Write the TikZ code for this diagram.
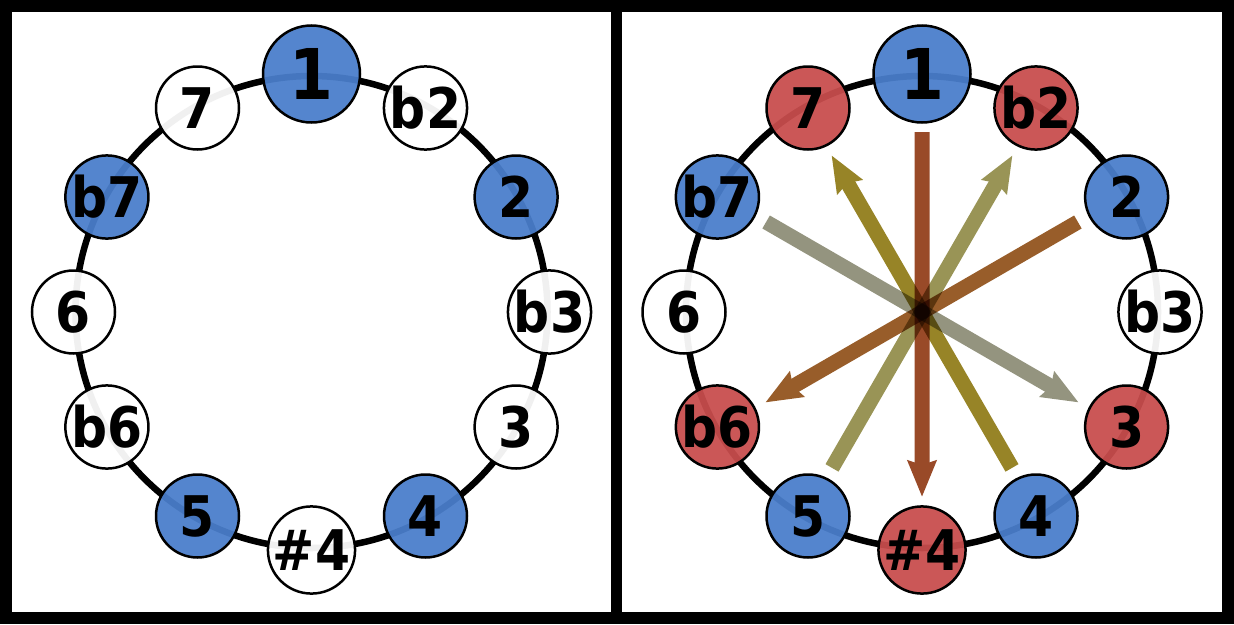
\documentclass[tikz,border=0pt]{standalone}
\usepackage{fontspec}
\newfontfamily\nf{DejaVu Sans Condensed Bold}
\usetikzlibrary{arrows.meta}
\definecolor{nblue}{RGB}{74,126,203}
\definecolor{nred}{RGB}{200,77,77}
\definecolor{ca}{RGB}{153,74,40}
\definecolor{cb}{RGB}{152,93,42}
\definecolor{cc}{RGB}{151,132,39}
\definecolor{cd}{RGB}{153,148,86}
\definecolor{ce}{RGB}{148,148,127}
\begin{document}
\begin{tikzpicture}[x=1pt,y=-1pt,
  note/.style={circle, draw=black, line width=2.5pt, minimum size=83pt, inner sep=0pt,
    font=\nf\fontsize{56}{56}\selectfont, fill opacity=0.94, text opacity=1},
  root/.style={note, minimum size=97pt, font=\nf\fontsize{70}{70}\selectfont},
  wn/.style={fill=white}, bn/.style={fill=nblue}, rn/.style={fill=nred},
  ring/.style={line width=6.5pt, draw=black},
  iv/.style={line width=15pt, -{Stealth[length=36pt,width=28pt,inset=4pt]}}]
\useasboundingbox (0,0) rectangle (1234,624);
\fill[black] (0,0) rectangle (1234,624);
\fill[white] (12,12) rectangle (611,612);
\fill[white] (622,12) rectangle (1222,612);
% left panel
\coordinate (L) at (311.5,312);
\draw[ring] (L) circle[radius=236];
\node[root,bn] (l1) at (311.5,74) {1};
\node[note,wn] (lb2) at (425.5,108) {b2};
\node[note,bn] (l2) at (516.1,197) {2};
\node[note,wn] (lb3) at (549.5,312) {b3};
\node[note,wn] (l3) at (516.1,427) {3};
\node[note,bn] (l4) at (425.5,516) {4};
\node[note,wn] (ls4) at (311.5,550) {\#4};
\node[note,bn] (l5) at (197.5,516) {5};
\node[note,wn] (lb6) at (106.9,427) {b6};
\node[note,wn] (l6) at (73.5,312) {6};
\node[note,bn] (lb7) at (106.9,197) {b7};
\node[note,wn] (l7) at (197.5,108) {7};
% right panel
\coordinate (R) at (922,312);
\draw[ring] (R) circle[radius=236];
\node[root,bn] (r1) at (922,74) {1};
\node[note,rn] (rb2) at (1036,108) {b2};
\node[note,bn] (r2) at (1126.6,197) {2};
\node[note,wn] (rb3) at (1160,312) {b3};
\node[note,rn] (r3) at (1126.6,427) {3};
\node[note,bn] (r4) at (1036,516) {4};
\node[note,rn] (rs4) at (922,550) {\#4};
\node[note,bn] (r5) at (808,516) {5};
\node[note,rn] (rb6) at (717.4,427) {b6};
\node[note,wn] (r6) at (684,312) {6};
\node[note,bn] (rb7) at (717.4,197) {b7};
\node[note,rn] (r7) at (808,108) {7};
% interval arrows
\coordinate (s1) at (922,132);      \coordinate (t1) at (922,497);
\coordinate (s2) at (1077.9,222);   \coordinate (t2) at (765.25,402.5);
\coordinate (s3) at (1012,467.9);   \coordinate (t3) at (831.5,155.25);
\coordinate (s4) at (832,467.9);    \coordinate (t4) at (1012.5,155.25);
\coordinate (s5) at (766.1,222);    \coordinate (t5) at (1078.75,402.5);
\begin{scope}[blend mode=multiply]
\begin{scope}[transparency group]
  \draw[iv, draw=ce, fill=ce] (s5) -- (t5);
\end{scope}
\begin{scope}[transparency group]
  \draw[iv, draw=cd, fill=cd] (s4) -- (t4);
\end{scope}
\begin{scope}[transparency group]
  \draw[iv, draw=cc, fill=cc] (s3) -- (t3);
\end{scope}
\begin{scope}[transparency group]
  \draw[iv, draw=cb, fill=cb] (s2) -- (t2);
\end{scope}
\begin{scope}[transparency group]
  \draw[iv, draw=ca, fill=ca] (s1) -- (t1);
\end{scope}
\end{scope}
\end{tikzpicture}
\end{document}
